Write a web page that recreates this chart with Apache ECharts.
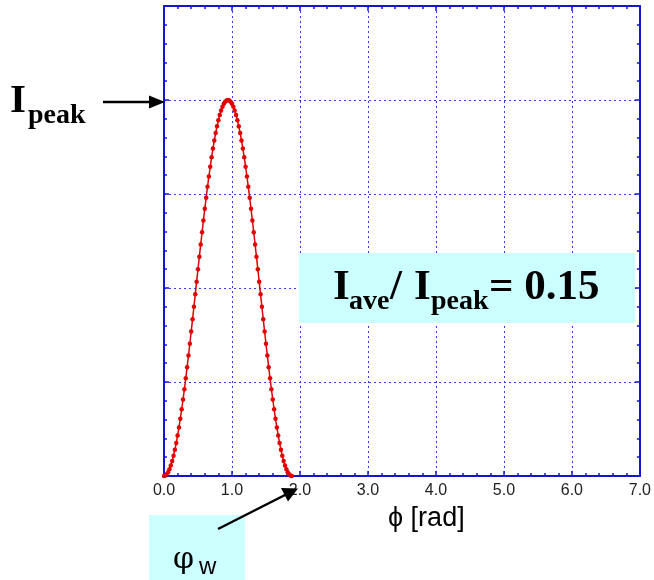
<!DOCTYPE html>
<html><head><meta charset="utf-8">
<script src="https://cdn.jsdelivr.net/npm/echarts@6/dist/echarts.min.js"></script>
<style>html,body{margin:0;padding:0;background:#fff}#c{width:654px;height:580px}</style>
</head><body><div id="c"></div>
<script>
const phi = [0.00,0.02,0.04,0.06,0.08,0.10,0.12,0.14,0.16,0.18,0.20,0.22,0.24,0.26,0.28,0.30,0.32,0.34,0.36,0.38,0.40,0.42,0.44,0.46,0.48,0.50,0.52,0.54,0.56,0.58,0.60,0.62,0.64,0.66,0.68,0.70,0.72,0.74,0.76,0.78,0.80,0.82,0.84,0.86,0.88,0.90,0.92,0.94,0.96,0.98,1.00,1.02,1.04,1.06,1.08,1.10,1.12,1.14,1.16,1.18,1.20,1.22,1.24,1.26,1.28,1.30,1.32,1.34,1.36,1.38,1.40,1.42,1.44,1.46,1.48,1.50,1.52,1.54,1.56,1.58,1.60,1.62,1.64,1.66,1.68,1.70,1.72,1.74,1.76,1.78,1.80,1.82,1.84,1.86,1.88];
const intensity = [0,0.004,0.018,0.040,0.071,0.111,0.159,0.215,0.279,0.351,0.430,0.517,0.610,0.709,0.814,0.924,1.039,1.158,1.281,1.407,1.536,1.667,1.800,1.933,2.067,2.200,2.333,2.464,2.593,2.719,2.842,2.961,3.076,3.186,3.291,3.390,3.483,3.570,3.649,3.721,3.785,3.841,3.889,3.929,3.960,3.982,3.996,4.000,3.996,3.982,3.960,3.929,3.889,3.841,3.785,3.721,3.649,3.570,3.483,3.390,3.291,3.186,3.076,2.961,2.842,2.719,2.593,2.464,2.333,2.200,2.067,1.933,1.800,1.667,1.536,1.407,1.281,1.158,1.039,0.924,0.814,0.709,0.610,0.517,0.430,0.351,0.279,0.215,0.159,0.111,0.071,0.040,0.018,0.004,0];
const xTickLabels = ['0.0','1.0','2.0','3.0','4.0','5.0','6.0','7.0'];
const xAxisName = 'ϕ [rad]';
const ratioLabel = ['I','ave','/','I','peak','= 0.15'];

const blue = '#1414d2';
const gridBlue = '#3a3aee';
const chart = echarts.init(document.getElementById('c'));
const axBase = {
  min: 0, interval: 1,
  axisLine: {show: true, onZero: false, lineStyle: {color: blue, width: 2}},
  axisTick: {show: true, inside: true, length: 5, lineStyle: {color: blue, width: 1.5}},
  minorTick: {show: true, splitNumber: 5, length: 3, lineStyle: {color: blue, width: 1.5}},
};
const txt = (x, y, text, font) => ({type: 'text', z: 101, x: x, y: y,
  style: {text: text, font: font, fill: '#000', align: 'left', verticalAlign: 'middle', textAlign: 'left', textVerticalAlign: 'middle'}});
chart.setOption({
  animation: false,
  grid: {left: 164, right: 14, top: 6, bottom: 104},
  xAxis: [
    Object.assign({}, axBase, {type: 'value', max: 7, position: 'bottom',
      axisLabel: {color: '#222', fontFamily: 'Liberation Sans', fontSize: 16, margin: 7,
        formatter: v => xTickLabels[Math.round(v)]},
      splitLine: {show: true, lineStyle: {color: gridBlue, type: [2, 3], width: 1}}}),
    Object.assign({}, axBase, {type: 'value', max: 7, position: 'top',
      axisLabel: {show: false}, splitLine: {show: false}})
  ],
  yAxis: [
    Object.assign({}, axBase, {type: 'value', max: 5, position: 'left',
      axisLabel: {show: false},
      splitLine: {show: true, lineStyle: {color: gridBlue, type: [2, 3], width: 1}}}),
    Object.assign({}, axBase, {type: 'value', max: 5, position: 'right',
      axisLabel: {show: false}, splitLine: {show: false}})
  ],
  series: [{
    type: 'line', xAxisIndex: 0, yAxisIndex: 0,
    data: phi.map((p, i) => [p, intensity[i]]),
    symbol: 'circle', symbolSize: 4.5, showSymbol: true,
    lineStyle: {color: '#e00000', width: 1.5},
    itemStyle: {color: '#e00000'},
    z: 3
  }],
  graphic: [
    {type: 'rect', z: 100, shape: {x: 299, y: 253, width: 336, height: 70}, style: {fill: '#ccffff'}},
    txt(333, 288, ratioLabel[0], 'bold 43px "Liberation Serif"'),
    txt(349, 302, ratioLabel[1], 'bold 28px "Liberation Serif"'),
    txt(390, 288, ratioLabel[2], 'bold 43px "Liberation Serif"'),
    txt(414, 288, ratioLabel[3], 'bold 43px "Liberation Serif"'),
    txt(431, 302, ratioLabel[4], 'bold 28px "Liberation Serif"'),
    txt(489, 288, ratioLabel[5], 'bold 43px "Liberation Serif"'),
    txt(10, 101, 'I', 'bold 41px "Liberation Serif"'),
    txt(28, 116, 'peak', 'bold 28px "Liberation Serif"'),
    {type: 'line', z: 101, shape: {x1: 103, y1: 102, x2: 152, y2: 102}, style: {stroke: '#000', lineWidth: 2.5}},
    {type: 'polygon', z: 101, shape: {points: [[165, 102], [149, 95.5], [149, 108.5]]}, style: {fill: '#000'}},
    {type: 'rect', z: 100, shape: {x: 149, y: 515, width: 96, height: 65}, style: {fill: '#ccffff'}},
    txt(173, 560, 'φ', '30px "DejaVu Serif"'),
    txt(199, 567, 'w', '24px "Liberation Sans"'),
    {type: 'line', z: 101, shape: {x1: 218, y1: 529, x2: 286, y2: 494.5}, style: {stroke: '#000', lineWidth: 2.5}},
    {type: 'polygon', z: 101, shape: {points: [[298, 488.5], [288, 501.5], [281, 488]]}, style: {fill: '#000'}},
    Object.assign(txt(388, 519, xAxisName, '27px "Liberation Sans"'), {})
  ]
});
</script></body></html>
